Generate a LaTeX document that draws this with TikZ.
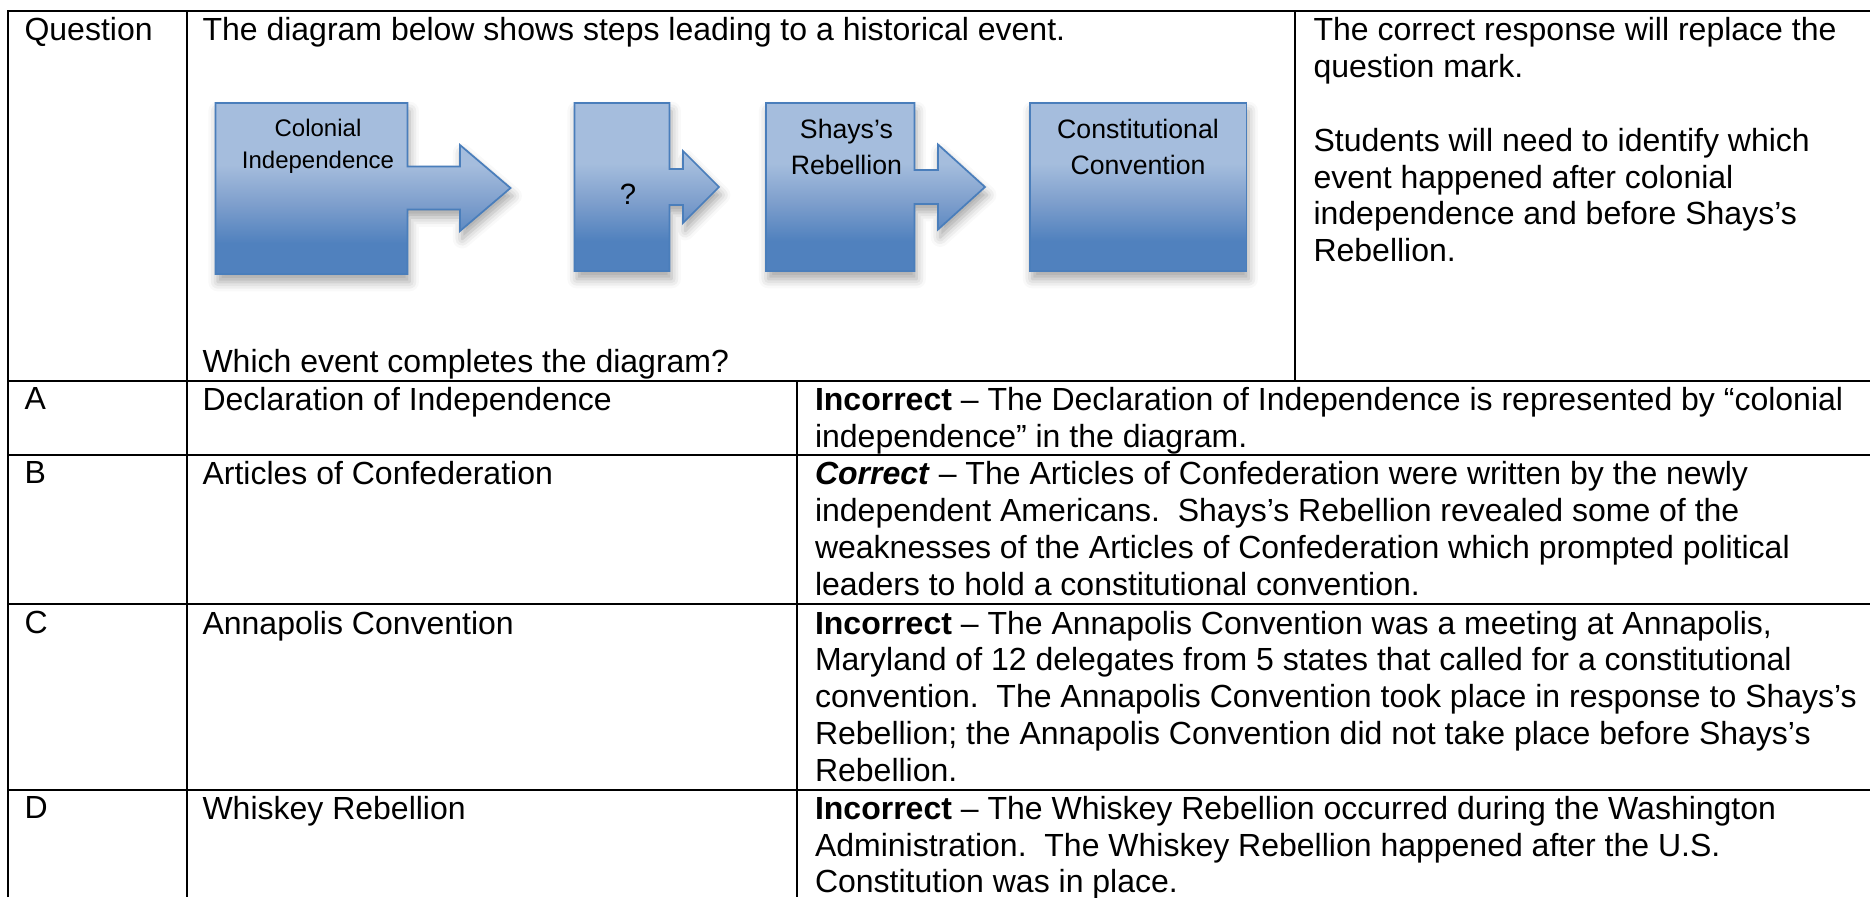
\documentclass[tikz,border=0pt]{standalone}
\usepackage{fontspec}
\setmainfont{Liberation Sans}
\usetikzlibrary{shadows.blur}

\definecolor{boxlight}{RGB}{165,189,221}
\definecolor{boxmid}{RGB}{128,160,205}
\definecolor{boxdark}{RGB}{80,129,190}
\definecolor{boxedge}{RGB}{74,126,187}

\pgfdeclareverticalshading{smartblue}{100bp}{color(0bp)=(boxdark); color(34bp)=(boxdark); color(46bp)=(boxmid); color(57bp)=(boxlight); color(100bp)=(boxlight)}

\begin{document}
\begin{tikzpicture}[x=0.375pt, y=-0.375pt,
  rule/.style={line width=0.75pt},
  txt/.style={anchor=north west, inner sep=0pt, align=left, font=\fontsize{12}{13.8}\selectfont},
  callout/.style={shade, shading=smartblue, draw=boxedge, line width=0.65pt,
    blur shadow={shadow xshift=0.8pt, shadow yshift=-3pt, shadow blur radius=3.5pt, shadow opacity=35}},
  boxtxt/.style={anchor=north, inner sep=0pt, align=center, font=\fontsize{10}{13.75}\selectfont}]
  \useasboundingbox (0,0) rectangle (1870,897);

  % Table rules
  \draw[rule] (7.5,897) -- (7.5,11) -- (1870,11);
  \draw[rule] (186.7,11) -- (186.7,897);
  \draw[rule] (1294.5,11) -- (1294.5,381);
  \draw[rule] (797.3,381) -- (797.3,897);
  \foreach \y in {381,455,604,790}
    \draw[rule] (7.5,\y) -- (1870,\y);

  % Question row
  \node[txt] (qlabel) at (24,17.1) {Question};
  \node[txt] (stem) at (202,17.1) {The diagram below shows steps leading to a historical event.};
  \node[txt] (ask) at (202,348.6) {Which event completes the diagram?};
  \node[txt] (note) at (1313,17.1) {The correct response will replace the\\question mark.\\[13.8pt]Students will need to identify which\\event happened after colonial\\independence and before Shays’s\\Rebellion.};

  % Step shapes
  \path[callout] (215.5,103) -- (407.5,103) -- (407.5,166.5) -- (460,166.5) -- (460,145) -- (510.5,188)
    -- (460,231) -- (460,209.5) -- (407.5,209.5) -- (407.5,274) -- (215.5,274) -- cycle;
  \path[callout] (574.5,103) -- (669.5,103) -- (669.5,169) -- (683,169) -- (683,151) -- (719,187)
    -- (683,223) -- (683,205) -- (669.5,205) -- (669.5,271) -- (574.5,271) -- cycle;
  \path[callout] (766,103) -- (914.5,103) -- (914.5,170) -- (938,170) -- (938,144.5) -- (985,187)
    -- (938,229.5) -- (938,204) -- (914.5,204) -- (914.5,271) -- (766,271) -- cycle;
  \path[callout] (1030,103) rectangle (1246.5,271);

  \node[boxtxt, font=\fontsize{9}{11.9}\selectfont] (colonial) at (318,118.5) {Colonial\\Independence};
  \node[boxtxt, font=\fontsize{11}{13.75}\selectfont] (unknown) at (628,183.3) {?};
  \node[boxtxt] (shays) at (846.4,118.2) {Shays’s\\Rebellion};
  \node[boxtxt] (convention) at (1138,118.2) {Constitutional\\Convention};

  % Option A
  \node[txt] (optA) at (24,387.1) {A};
  \node[txt] (ansA) at (202,387.1) {Declaration of Independence};
  \node[txt] (whyA) at (814.5,387.1) {\textbf{Incorrect} – The Declaration of Independence is represented by “colonial\\independence” in the diagram.};

  % Option B
  \node[txt] (optB) at (24,461.1) {B};
  \node[txt] (ansB) at (202,461.1) {Articles of Confederation};
  \node[txt] (whyB) at (814.5,461.1) {\textbf{\textit{Correct}} – The Articles of Confederation were written by the newly\\independent Americans.\ \ Shays’s Rebellion revealed some of the\\weaknesses of the Articles of Confederation which prompted political\\leaders to hold a constitutional convention.};

  % Option C
  \node[txt] (optC) at (24,610.4) {C};
  \node[txt] (ansC) at (202,610.4) {Annapolis Convention};
  \node[txt] (whyC) at (814.5,610.4) {\textbf{Incorrect} – The Annapolis Convention was a meeting at Annapolis,\\Maryland of 12 delegates from 5 states that called for a constitutional\\convention.\ \ The Annapolis Convention took place in response to Shays’s\\Rebellion; the Annapolis Convention did not take place before Shays’s\\Rebellion.};

  % Option D
  \node[txt] (optD) at (24,795.6) {D};
  \node[txt] (ansD) at (202,795.6) {Whiskey Rebellion};
  \node[txt] (whyD) at (814.5,795.6) {\textbf{Incorrect} – The Whiskey Rebellion occurred during the Washington\\Administration.\ \ The Whiskey Rebellion happened after the U.S.\\Constitution was in place.};
\end{tikzpicture}
\end{document}
